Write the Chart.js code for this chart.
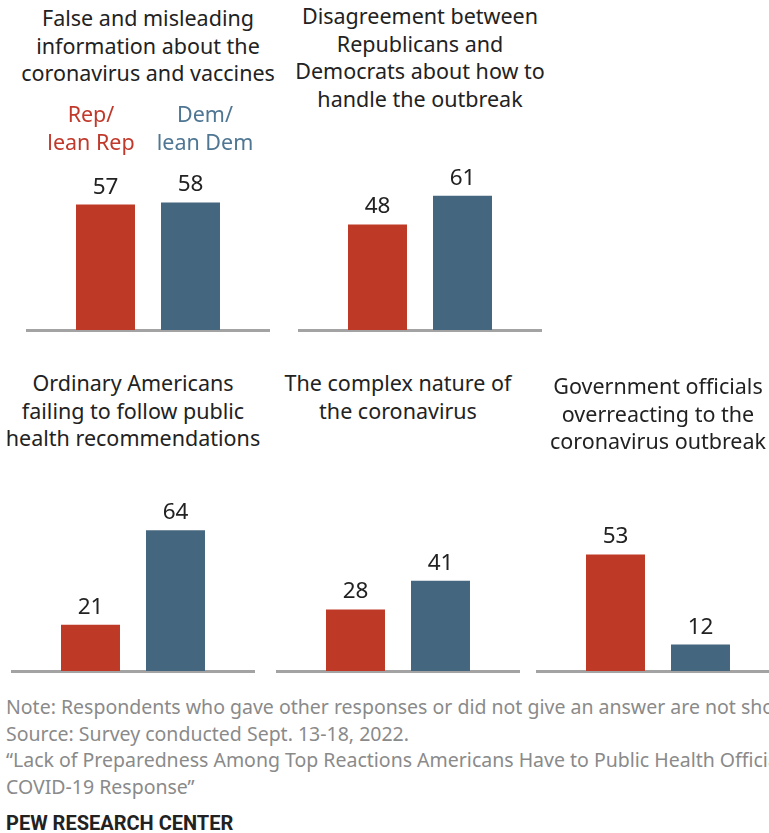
<!DOCTYPE html>
<html>
<head>
<meta charset="utf-8">
<script src="https://cdn.jsdelivr.net/npm/chart.js@4"></script>
<style>
  html, body { margin: 0; padding: 0; background: #fff; }
  body { width: 769px; height: 833px; position: relative; overflow: hidden; }
  .title { position: absolute; width: 300px; text-align: center; font-family: "Noto Sans", sans-serif;
           font-size: 21.5px; line-height: 27.5px; color: #222; white-space: nowrap; }
  .leg { position: absolute; width: 120px; text-align: center; font-family: "Noto Sans", sans-serif;
         font-size: 21.5px; line-height: 28px; }
  canvas { position: absolute; }
  .note { position: absolute; left: 6px; top: 694px; font-family: "Noto Sans", sans-serif;
          font-size: 19.5px; line-height: 26.5px; color: #8a8a8a; white-space: nowrap; }
  .pew { position: absolute; left: 6px; top: 811px; font-family: Roboto, sans-serif;
         font-size: 20px; font-weight: bold; color: #222; white-space: nowrap; }
</style>
</head>
<body>
<div id="wrap"></div>
<div class="note">Note: Respondents who gave other responses or did not give an answer are not shown.<br>Source: Survey conducted Sept. 13-18, 2022.<br>“Lack of Preparedness Among Top Reactions Americans Have to Public Health Officials’<br>COVID-19 Response”</div>
<div class="pew">PEW RESEARCH CENTER</div>
<script>
// data
var groups = ['Rep/ lean Rep', 'Dem/ lean Dem'];
var titles = [
  ['False and misleading', 'information about the', 'coronavirus and vaccines'],
  ['Disagreement between', 'Republicans and', 'Democrats about how to', 'handle the outbreak'],
  ['Ordinary Americans', 'failing to follow public', 'health recommendations'],
  ['The complex nature of', 'the coronavirus'],
  ['Government officials', 'overreacting to the', 'coronavirus outbreak']
];
var repValues = [57, 48, 21, 28, 53];
var demValues = [58, 61, 64, 41, 12];

var RED = '#BE3A27', BLUE = '#44677F';

// layout of the five panels (center x, top of canvas, title top)
var panels = [
  { cx: 148, top: 95, titleTop: 4 },
  { cx: 420, top: 95, titleTop: 2 },
  { cx: 133, top: 436, titleTop: 369 },
  { cx: 398, top: 436, titleTop: 369 },
  { cx: 658, top: 436, titleTop: 372 }
];

var labelPlugin = {
  id: 'labels',
  beforeDatasetsDraw: function(chart) {
    var ctx = chart.ctx;
    var y0 = chart.scales.y.getPixelForValue(0);
    ctx.save();
    ctx.strokeStyle = '#a3a3a3';
    ctx.lineWidth = 3;
    ctx.beginPath();
    ctx.moveTo(0, y0 + 0.5);
    ctx.lineTo(chart.width, y0 + 0.5);
    ctx.stroke();
    ctx.restore();
  },
  afterDatasetsDraw: function(chart) {
    var ctx = chart.ctx;
    var meta = chart.getDatasetMeta(0);
    ctx.save();
    ctx.font = '22.5px "Noto Sans", sans-serif';
    ctx.fillStyle = '#222';
    ctx.textAlign = 'center';
    ctx.textBaseline = 'alphabetic';
    meta.data.forEach(function(bar, i) {
      ctx.fillText(chart.data.datasets[0].data[i], bar.x, bar.y - 11);
    });
    ctx.restore();
  }
};

var wrap = document.getElementById('wrap');
panels.forEach(function(p, i) {
  var t = document.createElement('div');
  t.className = 'title';
  t.style.left = (p.cx - 150) + 'px';
  t.style.top = p.titleTop + 'px';
  t.innerHTML = titles[i].join('<br>');
  wrap.appendChild(t);

  var c = document.createElement('canvas');
  c.width = 244; c.height = 240;
  c.style.left = (p.cx - 122) + 'px';
  c.style.top = p.top + 'px';
  c.style.width = '244px'; c.style.height = '240px';
  wrap.appendChild(c);

  new Chart(c.getContext('2d'), {
    type: 'bar',
    data: {
      labels: groups,
      datasets: [{
        data: [repValues[i], demValues[i]],
        backgroundColor: [RED, BLUE],
        barPercentage: 0.694,
        categoryPercentage: 1
      }]
    },
    options: {
      responsive: false,
      animation: false,
      layout: { padding: { left: 37, right: 37, top: 15, bottom: 5 } },
      plugins: { legend: { display: false }, tooltip: { enabled: false } },
      scales: {
        x: { display: false },
        y: { display: false, min: 0, max: 100 }
      }
    },
    plugins: [labelPlugin]
  });
});

// series key in first panel
var keyPos = [{ cx: 91, color: '#C0392B' }, { cx: 205, color: '#4F7693' }];
groups.forEach(function(g, i) {
  var d = document.createElement('div');
  d.className = 'leg';
  d.style.left = (keyPos[i].cx - 60) + 'px';
  d.style.top = '100px';
  d.style.color = keyPos[i].color;
  d.innerHTML = g.replace(' ', '<br>');
  wrap.appendChild(d);
});
</script>
</body>
</html>
